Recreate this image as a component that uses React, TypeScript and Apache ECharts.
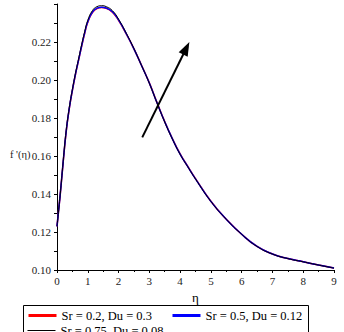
import React, { useEffect, useRef } from "react";
import * as echarts from "echarts";

const etaValues = [0, 0.1, 0.2, 0.3, 0.4, 0.5, 0.6, 0.7, 0.8, 0.9, 1.0, 1.15, 1.3, 1.45, 1.6, 1.8, 2.0, 2.25, 2.5, 2.75, 3.0, 3.25, 3.5, 3.75, 4.0, 4.25, 4.5, 5.0, 5.5, 6.0, 6.5, 7.0, 7.5, 8.0, 8.5, 9.0];

const seriesNames = ["Sr = 0.2, Du = 0.3", "Sr = 0.5, Du = 0.12", "Sr = 0.75, Du = 0.08"];

const redValues = [0.123, 0.1389, 0.1566, 0.173, 0.185, 0.1945, 0.2029, 0.2103, 0.2177, 0.2246, 0.2304, 0.2355, 0.2376, 0.2381, 0.2377, 0.2357, 0.2314, 0.2243, 0.2164, 0.2076, 0.1985, 0.1881, 0.1781, 0.1691, 0.1611, 0.1545, 0.1481, 0.1362, 0.1267, 0.1188, 0.1124, 0.1084, 0.106, 0.1043, 0.1026, 0.101];
const blueValues = [0.123, 0.139, 0.1568, 0.1732, 0.1852, 0.1947, 0.2031, 0.2105, 0.2179, 0.2248, 0.2306, 0.2357, 0.2378, 0.2383, 0.2379, 0.2359, 0.2316, 0.2244, 0.2164, 0.2075, 0.1984, 0.188, 0.178, 0.169, 0.161, 0.1544, 0.148, 0.1361, 0.1267, 0.1188, 0.1124, 0.1084, 0.106, 0.1043, 0.1026, 0.101];
const blackValues = [0.123, 0.139, 0.157, 0.1735, 0.1855, 0.195, 0.2035, 0.211, 0.2185, 0.2255, 0.2314, 0.2365, 0.2386, 0.2391, 0.2386, 0.2365, 0.232, 0.2246, 0.2165, 0.2075, 0.1983, 0.1879, 0.1779, 0.1689, 0.1609, 0.1543, 0.1479, 0.1361, 0.1267, 0.1188, 0.1124, 0.1084, 0.106, 0.1043, 0.1026, 0.101];

const arrowStart = [2.77, 0.1698];
const arrowEnd = [4.2, 0.2167];

const FONT = "'Liberation Serif', 'Times New Roman', serif";

export default function App() {
  const ref = useRef<HTMLDivElement>(null);
  useEffect(() => {
    if (!ref.current) return;
    const chart = echarts.init(ref.current, null, { renderer: "svg" });
    const pairs = (vals: number[]) => etaValues.map((x, i) => [x, vals[i]]);
    const colors = ["#ff0000", "#0000ff", "#000000"];
    const valueSets = [redValues, blueValues, blackValues];
    const widths = [1.5, 1.5, 1];
    const series: any[] = seriesNames.map((name, i) => ({
      name,
      type: "line",
      data: pairs(valueSets[i]),
      smooth: 0.5,
      symbol: "none",
      lineStyle: { color: colors[i], width: widths[i] },
      itemStyle: { color: colors[i] },
      z: 2 + i,
    }));
    series[2].markLine = {
      silent: true,
      symbol: ["none", "triangle"],
      symbolSize: [10, 14],
      label: { show: false },
      lineStyle: { color: "#000", width: 2, type: "solid" },
      emphasis: { disabled: true },
      data: [[{ coord: arrowStart }, { coord: arrowEnd }]],
    };
    const legendBase = {
      orient: "horizontal",
      padding: 0,
      itemGap: 19,
      itemWidth: 28,
      itemHeight: 2,
      itemStyle: { opacity: 0 },
      textStyle: { fontFamily: FONT, fontSize: 12.5, color: "#000" },
    };
    chart.setOption({
      animation: false,
      grid: { left: 57, right: 10, top: 4, bottom: 62 },
      xAxis: {
        type: "value",
        min: 0,
        max: 9,
        interval: 1,
        name: "η",
        nameLocation: "middle",
        nameGap: 20,
        nameTextStyle: { fontFamily: FONT, fontSize: 13, color: "#000" },
        axisLine: { lineStyle: { color: "#000", width: 1 } },
        axisTick: { inside: false, length: 3, lineStyle: { color: "#000" } },
        minorTick: { show: true, splitNumber: 2, length: 2, lineStyle: { color: "#000" } },
        axisLabel: { fontFamily: FONT, fontSize: 11, color: "#222", margin: 5 },
        splitLine: { show: false },
      },
      yAxis: {
        type: "value",
        min: 0.1,
        max: 0.24,
        interval: 0.01,
        axisLine: { show: true, lineStyle: { color: "#000", width: 1 } },
        axisTick: { show: true, inside: false, length: 3, lineStyle: { color: "#000" } },
        axisLabel: {
          fontFamily: FONT,
          fontSize: 11,
          color: "#222",
          margin: 6,
          formatter: (v: number) => {
            const k = Math.round(v * 100);
            if (k % 2 !== 0 || k >= 24) return "";
            return v.toFixed(2);
          },
        },
        splitLine: { show: false },
      },
      legend: [
        {
          ...legendBase,
          left: 27,
          top: 309,
          data: [
            { name: seriesNames[0], lineStyle: { width: 3 } },
            { name: seriesNames[1], lineStyle: { width: 3 } },
          ],
        },
        {
          ...legendBase,
          left: 27,
          top: 324,
          data: [{ name: seriesNames[2], lineStyle: { width: 1 } }],
        },
      ],
      graphic: [
        {
          type: "rect",
          shape: { x: 23.5, y: 305.5, width: 285, height: 40 },
          style: { fill: "none", stroke: "#000", lineWidth: 1 },
          silent: true,
        },
        {
          type: "text",
          left: 10,
          top: 149,
          style: { text: "f '(η)", fontFamily: FONT, fontSize: 10.5, fill: "#222" },
        },
      ],
      series,
    });
    return () => chart.dispose();
  }, []);
  return <div ref={ref} style={{ width: 344, height: 332, position: "absolute", left: 0, top: 0 }} />;
}
